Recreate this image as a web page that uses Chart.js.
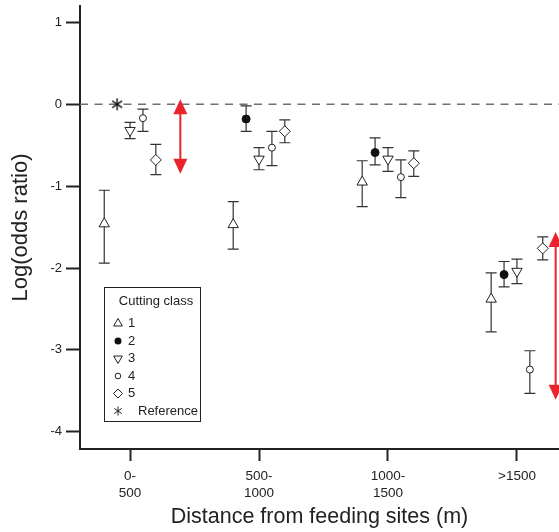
<!DOCTYPE html>
<html>
<head>
<meta charset="utf-8">
<script src="https://cdn.jsdelivr.net/npm/chart.js@4"></script>
<style>
html,body{margin:0;padding:0;background:#fff;overflow:hidden;}
canvas{display:block;}
</style>
</head>
<body>
<canvas id="myChart" width="559" height="532"></canvas>
<script>
// categories and tick labels
var groups = [["0-", "500"], ["500-", "1000"], ["1000-", "1500"], [">1500"]];
var yTicks = [1, 0, -1, -2, -3, -4];
var classNames = ["1", "2", "3", "4", "5"];
var classOffset = [-0.2, -0.1, 0, 0.1, 0.2];

// log(odds ratio) per distance group, with lower / upper error limits
var class1 = [-1.46, -1.47, -0.95, -2.38];
var class1Lo = [-1.94, -1.77, -1.25, -2.78];
var class1Hi = [-1.05, -1.19, -0.69, -2.06];
var class2 = [null, -0.18, -0.59, -2.08];
var class2Lo = [null, -0.33, -0.74, -2.23];
var class2Hi = [null, -0.02, -0.41, -1.92];
var class3 = [-0.32, -0.67, -0.67, -2.04];
var class3Lo = [-0.42, -0.80, -0.82, -2.19];
var class3Hi = [-0.22, -0.53, -0.53, -1.89];
var class4 = [-0.17, -0.53, -0.89, -3.24];
var class4Lo = [-0.33, -0.75, -1.14, -3.53];
var class4Hi = [-0.06, -0.33, -0.68, -3.01];
var class5 = [-0.68, -0.33, -0.72, -1.76];
var class5Lo = [-0.86, -0.47, -0.88, -1.90];
var class5Hi = [-0.49, -0.19, -0.57, -1.62];
var refX = [-0.1];
var refY = [0];

// red arrows (x in category units, top / bottom tip)
var arrowX = [0.39, 3.30];
var arrowTop = [0.06, -1.56];
var arrowBottom = [-0.85, -3.61];

var fontFamily = "'Liberation Sans', Arial, Helvetica, sans-serif";
var ink = "#222";
var red = "#e9242a";

function points(mean, lo, hi, k) {
  var out = [];
  mean.forEach(function (m, i) {
    if (m === null) return;
    out.push({ x: i + classOffset[k], y: m, lo: lo[i], hi: hi[i] });
  });
  return out;
}

function starImage(r) {
  var c = document.createElement("canvas");
  var s = Math.ceil(r * 2 + 2);
  c.width = s; c.height = s;
  var g = c.getContext("2d");
  g.strokeStyle = "#111"; g.lineWidth = 1.4;
  var cx = s / 2, cy = s / 2;
  [90, 35, -35].forEach(function (a) {
    var rad = a * Math.PI / 180;
    g.beginPath();
    g.moveTo(cx - Math.cos(rad) * r, cy - Math.sin(rad) * r);
    g.lineTo(cx + Math.cos(rad) * r, cy + Math.sin(rad) * r);
    g.stroke();
  });
  return c;
}

function drawMark(ctx, kind, x, y, r) {
  ctx.save();
  ctx.strokeStyle = ink; ctx.fillStyle = "#fff"; ctx.lineWidth = 1;
  ctx.beginPath();
  if (kind === "tri" || kind === "triDown") {
    var d = kind === "tri" ? 1 : -1;
    ctx.moveTo(x, y - d * r);
    ctx.lineTo(x + r * 0.866, y + d * r / 2);
    ctx.lineTo(x - r * 0.866, y + d * r / 2);
    ctx.closePath(); ctx.fill(); ctx.stroke();
  } else if (kind === "dot") {
    ctx.fillStyle = "#111";
    ctx.arc(x, y, r, 0, Math.PI * 2); ctx.fill();
  } else if (kind === "ring") {
    ctx.arc(x, y, r, 0, Math.PI * 2); ctx.fill(); ctx.stroke();
  } else if (kind === "diamond") {
    ctx.moveTo(x, y - r); ctx.lineTo(x + r, y); ctx.lineTo(x, y + r); ctx.lineTo(x - r, y);
    ctx.closePath(); ctx.fill(); ctx.stroke();
  } else if (kind === "star") {
    [90, 35, -35].forEach(function (a) {
      var rad = a * Math.PI / 180;
      ctx.moveTo(x - Math.cos(rad) * r, y - Math.sin(rad) * r);
      ctx.lineTo(x + Math.cos(rad) * r, y + Math.sin(rad) * r);
    });
    ctx.stroke();
  }
  ctx.restore();
}

var errorBars = {
  id: "errorBars",
  beforeDatasetsDraw: function (chart) {
    var ctx = chart.ctx, ys = chart.scales.y, xs = chart.scales.x;
    ctx.save();
    ctx.strokeStyle = "#333";
    ctx.lineWidth = 1.2;
    chart.data.datasets.forEach(function (ds) {
      ds.data.forEach(function (p) {
        if (p.lo === undefined) return;
        var x = xs.getPixelForValue(p.x);
        var y1 = ys.getPixelForValue(p.hi), y2 = ys.getPixelForValue(p.lo);
        ctx.beginPath();
        ctx.moveTo(x, y1); ctx.lineTo(x, y2);
        ctx.moveTo(x - 5.5, y1); ctx.lineTo(x + 5.5, y1);
        ctx.moveTo(x - 5.5, y2); ctx.lineTo(x + 5.5, y2);
        ctx.stroke();
      });
    });
    ctx.restore();
  }
};

var redArrows = {
  id: "redArrows",
  afterDatasetsDraw: function (chart) {
    var ctx = chart.ctx, ys = chart.scales.y, xs = chart.scales.x;
    ctx.save();
    ctx.strokeStyle = red; ctx.fillStyle = red; ctx.lineWidth = 2;
    arrowX.forEach(function (v, i) {
      var x = xs.getPixelForValue(v);
      var t = ys.getPixelForValue(arrowTop[i]), b = ys.getPixelForValue(arrowBottom[i]);
      var hl = 15, hw = 7;
      ctx.beginPath(); ctx.moveTo(x, t + hl - 1); ctx.lineTo(x, b - hl + 1); ctx.stroke();
      ctx.beginPath(); ctx.moveTo(x, t); ctx.lineTo(x + hw, t + hl); ctx.lineTo(x - hw, t + hl); ctx.closePath(); ctx.fill();
      ctx.beginPath(); ctx.moveTo(x, b); ctx.lineTo(x + hw, b - hl); ctx.lineTo(x - hw, b - hl); ctx.closePath(); ctx.fill();
    });
    ctx.restore();
  }
};

var legendKinds = ["tri", "dot", "triDown", "ring", "diamond", "star"];
var legendSizes = [5, 3.5, 5, 2.8, 4.5, 4.5];
var legendBox = {
  id: "legendBox",
  afterDraw: function (chart) {
    var ctx = chart.ctx;
    ctx.save();
    ctx.fillStyle = "#fff"; ctx.fillRect(104.5, 287.5, 96, 134);
    ctx.strokeStyle = ink; ctx.lineWidth = 1; ctx.strokeRect(104.5, 287.5, 96, 134);
    ctx.font = "13px " + fontFamily; ctx.fillStyle = ink; ctx.textBaseline = "middle";
    ctx.textAlign = "center";
    ctx.fillText("Cutting class", 156, 301);
    ctx.textAlign = "left";
    classNames.concat(["Reference"]).forEach(function (lbl, i) {
      var y = 323.5 + i * 17.5;
      drawMark(ctx, legendKinds[i], 118, y, legendSizes[i]);
      ctx.fillStyle = ink;
      ctx.fillText(lbl, i < 5 ? 128 : 138, y);
    });
    ctx.restore();
  }
};

var markerBase = { showLine: false, pointBorderColor: ink, pointBorderWidth: 1, pointBackgroundColor: "#fff", pointHoverRadius: 0 };

var datasets = [
  Object.assign({ label: "1", data: points(class1, class1Lo, class1Hi, 0), pointStyle: "triangle", pointRadius: 6 }, markerBase),
  Object.assign({}, markerBase, { label: "2", data: points(class2, class2Lo, class2Hi, 1), pointStyle: "circle", pointRadius: 4, pointBackgroundColor: "#111", pointBorderColor: "#111" }),
  Object.assign({ label: "3", data: points(class3, class3Lo, class3Hi, 2), pointStyle: "triangle", pointRotation: 180, pointRadius: 6 }, markerBase),
  Object.assign({ label: "4", data: points(class4, class4Lo, class4Hi, 3), pointStyle: "circle", pointRadius: 3.5 }, markerBase),
  Object.assign({ label: "5", data: points(class5, class5Lo, class5Hi, 4), pointStyle: "rectRot", pointRadius: 5.5 }, markerBase),
  Object.assign({ label: "Reference", data: refX.map(function (x, i) { return { x: x, y: refY[i] }; }), pointStyle: starImage(6) }, markerBase),
  {
    type: "line", label: "zero", order: 10,
    data: [{ x: -0.388, y: 0 }, { x: 3.326, y: 0 }],
    borderColor: "#707070", borderWidth: 1.5, borderDash: [8, 6.5], pointRadius: 0
  }
];

var ctx = document.getElementById("myChart").getContext("2d");
var myChart = new Chart(ctx, {
  type: "scatter",
  data: { datasets: datasets },
  options: {
    responsive: false,
    animation: false,
    layout: { autoPadding: false, padding: { top: 6, right: 0, bottom: 0, left: 0 } },
    plugins: { legend: { display: false }, tooltip: { enabled: false } },
    scales: {
      x: {
        type: "linear", min: -0.388, max: 3.326,
        afterBuildTicks: function (s) { s.ticks = groups.map(function (g, i) { return { value: i }; }); },
        afterFit: function (s) { s.height = 83; s.paddingLeft = 0; s.paddingRight = 0; },
        grid: { drawOnChartArea: false, drawTicks: true, tickLength: 12, tickWidth: 2, tickColor: ink },
        border: { color: ink, width: 2 },
        ticks: {
          autoSkip: false, maxRotation: 0, padding: 7, color: ink,
          font: { family: fontFamily, size: 13.5, lineHeight: 1.25 },
          callback: function (v) { return groups[v]; }
        },
        title: {
          display: true, text: "Distance from feeding sites (m)", color: ink,
          font: { family: fontFamily, size: 21.5 }, padding: { top: 2, bottom: 2 }
        }
      },
      y: {
        min: -4.21, max: 1.2,
        afterBuildTicks: function (s) { s.ticks = yTicks.map(function (v) { return { value: v }; }); },
        afterFit: function (s) { s.width = 80; s.paddingTop = 0; s.paddingBottom = 0; },
        grid: { drawOnChartArea: false, drawTicks: true, tickLength: 14, tickWidth: 2, tickColor: ink },
        border: { color: ink, width: 2 },
        ticks: {
          padding: 4, color: ink,
          font: { family: fontFamily, size: 13 },
          callback: function (v) { return String(v); }
        },
        title: {
          display: true, text: "Log(odds ratio)", color: ink,
          font: { family: fontFamily, size: 22 }, padding: { top: 8, bottom: 0 }
        }
      }
    }
  },
  plugins: [errorBars, redArrows, legendBox]
});
</script>
</body>
</html>
